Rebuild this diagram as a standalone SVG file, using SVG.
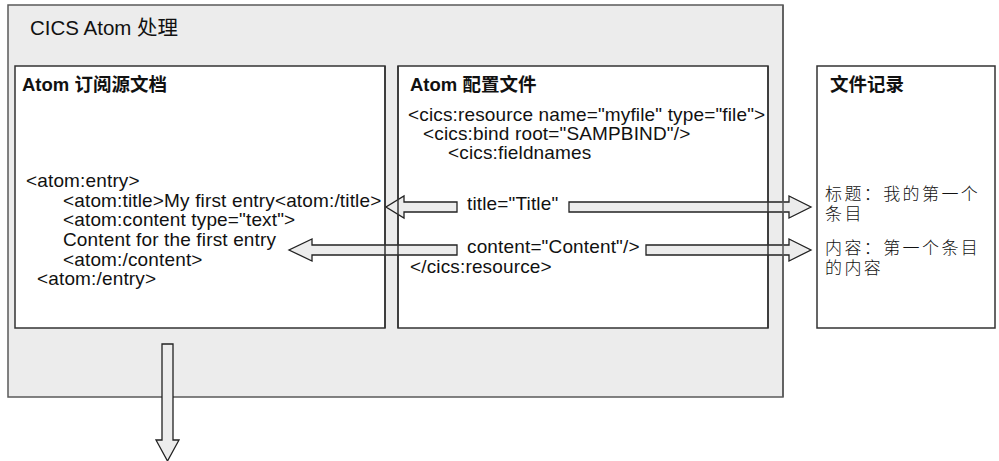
<svg xmlns="http://www.w3.org/2000/svg" width="999" height="461" viewBox="0 0 999 461">
<defs>
<style>
.outer{fill:#ececec;stroke:#5a5a5a;stroke-width:1.5}
.box{fill:#ffffff;stroke:#333333;stroke-width:1.5}
.edge{stroke:#333333;stroke-width:1.5;fill:none}
.arrow{fill:#ececec;stroke:#222222;stroke-width:1.3;stroke-linejoin:miter}
text{font-family:"Liberation Sans",Arial,"Noto Sans CJK SC",sans-serif;fill:#111111}
.h1{font-size:20.5px}
.h2{font-size:18.5px;font-weight:bold}
.t{font-size:19px;letter-spacing:0.15px}
.cjk{font-size:17px;letter-spacing:2.4px;font-weight:300}
</style>
</defs>
<g id="cics-processing">
<rect class="outer" x="8" y="5" width="775" height="392"/>
<text class="h1" x="30" y="35">CICS Atom 处理</text>
</g>
<g id="atom-feed">
<rect class="box" x="15" y="66" width="370" height="262"/>
<text class="h2" x="22" y="91">Atom 订阅源文档</text>
<text class="t" x="26" y="187">&lt;atom:entry&gt;</text>
<text class="t" x="63" y="207">&lt;atom:title&gt;My first entry&lt;atom:/title&gt;</text>
<text class="t" x="63" y="226">&lt;atom:content type="text"&gt;</text>
<text class="t" x="63" y="246">Content for the first entry</text>
<text class="t" x="63" y="266">&lt;atom:/content&gt;</text>
<text class="t" x="37" y="285">&lt;atom:/entry&gt;</text>
</g>
<g id="atom-config">
<rect class="box" x="398" y="66" width="370" height="262"/>
<text class="h2" x="410" y="91">Atom 配置文件</text>
<text class="t" x="408" y="121">&lt;cics:resource name="myfile" type="file"&gt;</text>
<text class="t" x="423" y="140">&lt;cics:bind root="SAMPBIND"/&gt;</text>
<text class="t" x="448" y="159">&lt;cics:fieldnames</text>
<text class="t" x="467" y="210">title="Title"</text>
<text class="t" x="467" y="253">content="Content"/&gt;</text>
<text class="t" x="410" y="273">&lt;/cics:resource&gt;</text>
</g>
<g id="file-record">
<rect class="box" x="817" y="66" width="178" height="262"/>
<text class="h2" x="830" y="91">文件记录</text>
<text class="cjk" x="825" y="200">标题：我的第一个</text>
<text class="cjk" x="825" y="219.5">条目</text>
<text class="cjk" x="825" y="254">内容：第一个条目</text>
<text class="cjk" x="825" y="273.5">的内容</text>
</g>
<g id="connectors">
<polygon class="arrow" points="457,202 404,202 404,196 386,207 404,218 404,212 457,212"/>
<polygon class="arrow" points="569,202 789,202 789,196 811,207 789,218 789,212 569,212"/>
<polygon class="arrow" points="457,245 312,245 312,239 289,250 312,261 312,255 457,255"/>
<polygon class="arrow" points="646,245 789,245 789,239 811,250 789,261 789,255 646,255"/>
<polygon class="arrow" points="162,344 173,344 173,440 179,440 167.5,461 156,440 162,440"/>
</g>
<g id="edge-overlay">
<line class="edge" x1="385" y1="66" x2="385" y2="328"/>
<line class="edge" x1="398" y1="66" x2="398" y2="328"/>
<line class="edge" x1="768" y1="66" x2="768" y2="328"/>
<line class="edge" x1="783" y1="5" x2="783" y2="397" style="stroke:#5a5a5a"/>
</g>
</svg>
